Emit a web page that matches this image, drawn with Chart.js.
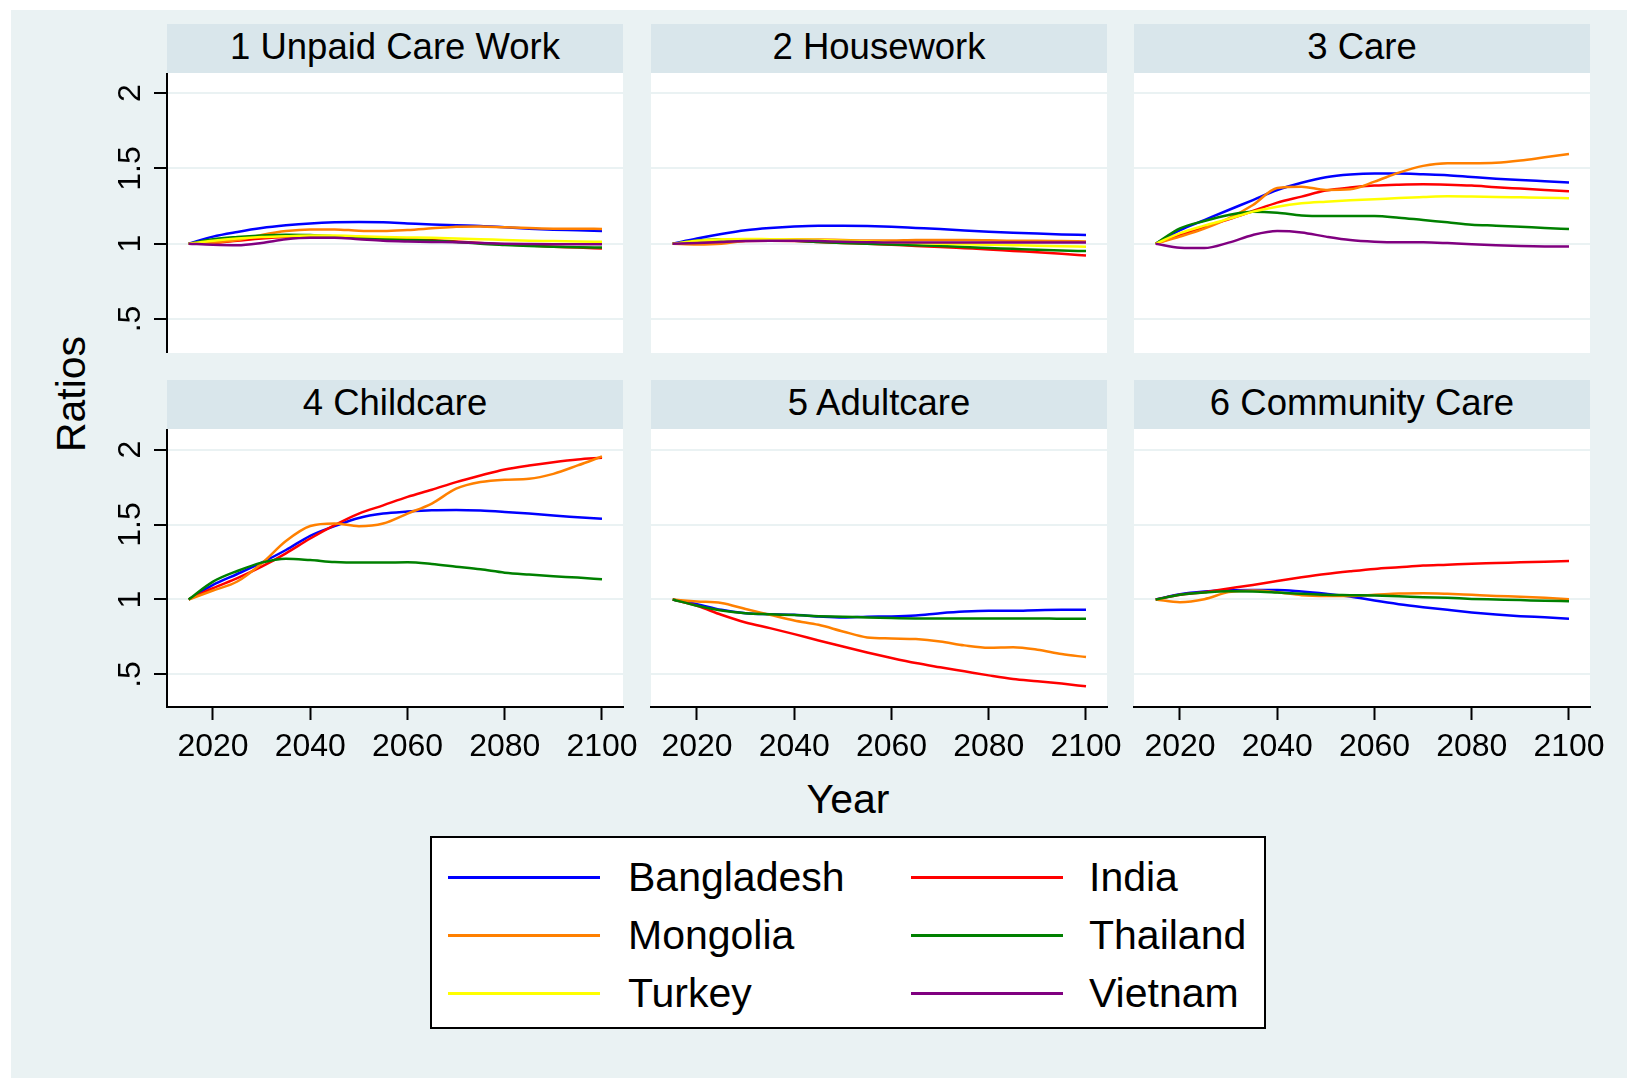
<!DOCTYPE html>
<html>
<head>
<meta charset="utf-8">
<title>Ratios by type of care, 2015-2100</title>
<script src="https://cdn.jsdelivr.net/npm/chart.js@4.4.1/dist/chart.umd.min.js"></script>
<style>
  html, body { margin: 0; padding: 0; background: #fff; width: 1627px; height: 1078px; overflow: hidden;
    font-family: 'Liberation Sans', Arial, sans-serif; }
  #frame { position: absolute; left: 11px; top: 10px; width: 1616px; height: 1068px; background: rgb(234,242,243); }
  .strip { position: absolute; height: 49px; line-height: 45px; background: rgb(217,230,235); color: #000;
    font-size: 36.5px; text-align: center; white-space: nowrap; }
  canvas.panel { position: absolute; }
  #ytitle { position: absolute; left: 71px; top: 394px; font-size: 41px; color: #000; white-space: nowrap;
    transform: translate(-50%, -50%) rotate(-90deg); }
  #xtitle { position: absolute; left: 848px; top: 799px; font-size: 41px; color: #000; white-space: nowrap;
    transform: translate(-50%, -50%); }
  #legend { position: absolute; left: 430px; top: 836px; width: 832px; height: 189px; background: #fff;
    border: 2px solid #000; }
  .key { position: absolute; height: 3px; width: 152px; }
  .keytext { position: absolute; font-size: 41px; color: #000; white-space: nowrap; transform: translateY(-50%); }
</style>
</head>
<body>
<div id="frame"></div>
<div id="ytitle">Ratios</div>
<div id="xtitle">Year</div>
<div id="legend"></div>

<script>
// ---- data -------------------------------------------------------------
const years = [2015, 2020, 2025, 2030, 2035, 2040, 2045, 2050, 2055, 2060,
               2065, 2070, 2075, 2080, 2085, 2090, 2095, 2100];
const countries = ['Bangladesh', 'India', 'Mongolia', 'Thailand', 'Turkey', 'Vietnam'];
const countryColors = ['#0000ff', '#ff0000', '#ff8000', '#008000', '#ffff00', '#800080'];
const panelTitles = ['1 Unpaid Care Work', '2 Housework', '3 Care', '4 Childcare', '5 Adultcare', '6 Community Care'];
const xTickValues = [2020, 2040, 2060, 2080, 2100];
const yTickValues = [0.5, 1, 1.5, 2];
const yTickLabels = ['.5', '1', '1.5', '2'];

// 1 Unpaid Care Work
const unpaidBangladesh = [1.0, 1.047, 1.078, 1.104, 1.122, 1.135, 1.142, 1.144, 1.142, 1.135, 1.128, 1.122, 1.118, 1.109, 1.1, 1.093, 1.089, 1.084];
const unpaidIndia      = [1.0, 1.005, 1.02, 1.035, 1.045, 1.048, 1.045, 1.042, 1.035, 1.03, 1.025, 1.015, 1.005, 0.995, 0.988, 0.98, 0.975, 0.968];
const unpaidMongolia   = [1.0, 1.007, 1.024, 1.058, 1.084, 1.095, 1.095, 1.086, 1.084, 1.091, 1.102, 1.113, 1.115, 1.109, 1.104, 1.1, 1.1, 1.098];
const unpaidThailand   = [1.0, 1.03, 1.045, 1.055, 1.06, 1.058, 1.05, 1.04, 1.033, 1.025, 1.02, 1.012, 1.0, 0.992, 0.985, 0.98, 0.977, 0.975];
const unpaidTurkey     = [1.0, 1.02, 1.035, 1.045, 1.05, 1.055, 1.055, 1.05, 1.045, 1.042, 1.04, 1.035, 1.03, 1.025, 1.02, 1.018, 1.015, 1.013];
const unpaidVietnam    = [1.0, 0.993, 0.99, 1.005, 1.03, 1.04, 1.04, 1.03, 1.02, 1.015, 1.012, 1.01, 1.005, 1.0, 0.998, 0.997, 0.997, 0.997];

// 2 Housework
const houseBangladesh = [1.0, 1.035, 1.065, 1.09, 1.105, 1.115, 1.12, 1.12, 1.118, 1.113, 1.105, 1.097, 1.088, 1.08, 1.073, 1.067, 1.062, 1.058];
const houseIndia      = [1.0, 1.005, 1.012, 1.018, 1.02, 1.018, 1.012, 1.005, 1.0, 0.993, 0.985, 0.978, 0.97, 0.962, 0.952, 0.943, 0.933, 0.922];
const houseMongolia   = [1.0, 0.995, 1.0, 1.02, 1.025, 1.03, 1.028, 1.025, 1.022, 1.022, 1.025, 1.025, 1.025, 1.023, 1.02, 1.02, 1.018, 1.015];
const houseThailand   = [1.0, 1.02, 1.03, 1.03, 1.025, 1.02, 1.012, 1.005, 1.0, 0.995, 0.99, 0.985, 0.978, 0.972, 0.966, 0.96, 0.955, 0.951];
const houseTurkey     = [1.0, 1.02, 1.03, 1.032, 1.03, 1.028, 1.025, 1.02, 1.015, 1.01, 1.005, 1.0, 0.997, 0.993, 0.99, 0.987, 0.983, 0.98];
const houseVietnam    = [1.0, 1.005, 1.012, 1.018, 1.02, 1.02, 1.018, 1.013, 1.01, 1.008, 1.008, 1.008, 1.008, 1.008, 1.008, 1.008, 1.008, 1.008];

// 3 Care
const careBangladesh = [1.0, 1.09, 1.157, 1.224, 1.29, 1.357, 1.405, 1.441, 1.459, 1.466, 1.466, 1.461, 1.455, 1.443, 1.432, 1.424, 1.415, 1.406];
const careIndia      = [1.0, 1.058, 1.113, 1.162, 1.217, 1.273, 1.313, 1.353, 1.373, 1.386, 1.392, 1.395, 1.392, 1.386, 1.375, 1.366, 1.357, 1.348];
const careMongolia   = [1.0, 1.047, 1.10, 1.168, 1.257, 1.37, 1.379, 1.357, 1.361, 1.412, 1.472, 1.517, 1.534, 1.534, 1.537, 1.552, 1.574, 1.596];
const careThailand   = [1.0, 1.102, 1.151, 1.191, 1.213, 1.206, 1.188, 1.184, 1.184, 1.184, 1.173, 1.157, 1.142, 1.126, 1.12, 1.113, 1.104, 1.098];
const careTurkey     = [1.0, 1.07, 1.12, 1.165, 1.213, 1.246, 1.268, 1.279, 1.288, 1.295, 1.304, 1.31, 1.315, 1.313, 1.31, 1.308, 1.306, 1.302];
const careVietnam    = [1.0, 0.973, 0.971, 1.007, 1.058, 1.084, 1.075, 1.047, 1.024, 1.013, 1.009, 1.009, 1.004, 0.996, 0.989, 0.984, 0.982, 0.982];

// 4 Childcare
const childBangladesh = [1.0, 1.097, 1.17, 1.246, 1.33, 1.425, 1.489, 1.544, 1.573, 1.586, 1.595, 1.597, 1.593, 1.584, 1.573, 1.56, 1.549, 1.538];
const childIndia      = [1.0, 1.075, 1.142, 1.219, 1.308, 1.407, 1.496, 1.573, 1.628, 1.684, 1.732, 1.783, 1.827, 1.867, 1.894, 1.916, 1.934, 1.945];
const childMongolia   = [1.0, 1.06, 1.12, 1.24, 1.39, 1.49, 1.507, 1.489, 1.507, 1.573, 1.64, 1.739, 1.783, 1.799, 1.805, 1.838, 1.894, 1.954];
const childThailand   = [1.0, 1.119, 1.19, 1.246, 1.272, 1.263, 1.25, 1.246, 1.246, 1.248, 1.237, 1.219, 1.201, 1.179, 1.166, 1.155, 1.146, 1.135];

// 5 Adultcare
const adultBangladesh = [1.0, 0.969, 0.931, 0.909, 0.902, 0.898, 0.887, 0.88, 0.885, 0.887, 0.894, 0.909, 0.92, 0.925, 0.925, 0.929, 0.931, 0.931];
const adultIndia      = [1.0, 0.958, 0.898, 0.847, 0.809, 0.769, 0.727, 0.687, 0.647, 0.61, 0.576, 0.548, 0.521, 0.494, 0.47, 0.455, 0.439, 0.421];
const adultMongolia   = [1.0, 0.987, 0.976, 0.936, 0.898, 0.86, 0.831, 0.787, 0.747, 0.74, 0.736, 0.72, 0.694, 0.678, 0.681, 0.665, 0.636, 0.616];
const adultThailand   = [1.0, 0.958, 0.927, 0.909, 0.902, 0.896, 0.889, 0.885, 0.88, 0.876, 0.874, 0.874, 0.874, 0.874, 0.874, 0.874, 0.871, 0.871];

// 6 Community Care
const communityBangladesh = [1.0, 1.035, 1.053, 1.062, 1.064, 1.064, 1.053, 1.038, 1.02, 0.993, 0.969, 0.949, 0.931, 0.914, 0.9, 0.889, 0.881, 0.872];
const communityIndia      = [1.0, 1.031, 1.049, 1.073, 1.097, 1.124, 1.148, 1.17, 1.188, 1.204, 1.215, 1.226, 1.232, 1.239, 1.243, 1.248, 1.252, 1.257];
const communityMongolia   = [1.0, 0.982, 1.002, 1.049, 1.06, 1.049, 1.029, 1.024, 1.024, 1.031, 1.04, 1.042, 1.038, 1.031, 1.024, 1.018, 1.011, 1.002];
const communityThailand   = [1.0, 1.031, 1.046, 1.055, 1.053, 1.046, 1.038, 1.031, 1.029, 1.027, 1.022, 1.015, 1.011, 1.004, 1.0, 0.996, 0.991, 0.989];

// series per panel, in country order (null = not shown in that panel)
const panelSeries = [
  [unpaidBangladesh, unpaidIndia, unpaidMongolia, unpaidThailand, unpaidTurkey, unpaidVietnam],
  [houseBangladesh, houseIndia, houseMongolia, houseThailand, houseTurkey, houseVietnam],
  [careBangladesh, careIndia, careMongolia, careThailand, careTurkey, careVietnam],
  [childBangladesh, childIndia, childMongolia, childThailand, null, null],
  [adultBangladesh, adultIndia, adultMongolia, adultThailand, null, null],
  [communityBangladesh, communityIndia, communityMongolia, communityThailand, null, null]
];

// ---- layout -----------------------------------------------------------
const FONT = "'Liberation Sans', Arial, sans-serif";
const gridColor = 'rgb(234,242,243)';
const colLeft = [167, 651, 1134];
const plotW = 456;
const rowTop = [73, 429];
const plotH = [280, 278];
const stripH = 49;
const xRange = [2010.54, 2104.32];
const yRange = [[0.274, 2.134], [0.283, 2.137]];
const xAxisH = 62;

// white plot region behind the lines
const plotFill = {
  id: 'plotFill',
  beforeDraw(chart) {
    const a = chart.chartArea, ctx = chart.ctx;
    ctx.save();
    ctx.fillStyle = '#fff';
    ctx.fillRect(a.left, a.top, a.right - a.left, a.bottom - a.top);
    ctx.restore();
  }
};

// vertical y tick labels, placed with the y scale
const yLabels = {
  id: 'yLabels',
  afterDraw(chart, args, opts) {
    if (!opts.show) return;
    const s = chart.scales.y, ctx = chart.ctx;
    ctx.save();
    ctx.fillStyle = '#000';
    ctx.font = '32px ' + FONT;
    ctx.textAlign = 'center';
    ctx.textBaseline = 'alphabetic';
    yTickValues.forEach((v, i) => {
      const y = s.getPixelForValue(v);
      ctx.save();
      ctx.translate(opts.baselineX, y);
      ctx.rotate(-Math.PI / 2);
      ctx.fillText(yTickLabels[i], 0, 0);
      ctx.restore();
    });
    ctx.restore();
  }
};

function makePanel(idx) {
  const col = idx % 3, row = Math.floor(idx / 3);
  const first = col === 0, bottom = row === 1;
  const padL = first ? 0 : 40, padR = 40;
  const axisW = first ? colLeft[0] : 0;
  const axisH = bottom ? xAxisH : 0;
  const left = colLeft[col] - axisW - padL;
  const width = padL + axisW + plotW + padR;
  const height = plotH[row] + axisH;

  const strip = document.createElement('div');
  strip.className = 'strip';
  strip.style.left = colLeft[col] + 'px';
  strip.style.top = (rowTop[row] - stripH) + 'px';
  strip.style.width = plotW + 'px';
  strip.textContent = panelTitles[idx];
  document.body.appendChild(strip);

  const cv = document.createElement('canvas');
  cv.className = 'panel';
  cv.width = width; cv.height = height;
  cv.style.left = left + 'px';
  cv.style.top = rowTop[row] + 'px';
  cv.style.width = width + 'px';
  cv.style.height = height + 'px';
  document.body.appendChild(cv);

  const datasets = [];
  panelSeries[idx].forEach((vals, c) => {
    if (!vals) return;
    datasets.push({
      label: countries[c],
      data: years.map((yr, i) => ({ x: yr, y: vals[i] })),
      borderColor: countryColors[c],
      borderWidth: 2.5,
      pointRadius: 0,
      fill: false,
      cubicInterpolationMode: 'monotone',
      order: countries.length - c
    });
  });

  new Chart(cv, {
    type: 'line',
    data: { datasets },
    plugins: [plotFill, yLabels],
    options: {
      responsive: false,
      animation: false,
      devicePixelRatio: 1,
      layout: { padding: { left: padL, right: padR, top: 0, bottom: 0 } },
      plugins: {
        legend: { display: false },
        tooltip: { enabled: false },
        yLabels: { show: first, baselineX: 139.5 - left }
      },
      scales: {
        x: {
          type: 'linear',
          display: bottom,
          min: xRange[0], max: xRange[1],
          afterBuildTicks: s => { s.ticks = xTickValues.map(v => ({ value: v })); },
          afterFit: s => { s.height = axisH; s.paddingLeft = 0; s.paddingRight = 0; },
          ticks: { callback: v => String(v), font: { family: FONT, size: 32 }, color: '#000',
                   padding: 8, maxRotation: 0, minRotation: 0, autoSkip: false },
          grid: { drawOnChartArea: false, drawTicks: true, tickLength: 13, tickColor: '#000', tickWidth: 2 },
          border: { display: true, color: '#000', width: 2 }
        },
        y: {
          type: 'linear',
          min: yRange[row][0], max: yRange[row][1],
          afterBuildTicks: s => { s.ticks = yTickValues.map(v => ({ value: v })); },
          afterFit: s => { s.width = axisW; s.paddingTop = 0; s.paddingBottom = 0; },
          ticks: { display: false },
          grid: { color: gridColor, lineWidth: 2, drawTicks: first, tickLength: 13, tickColor: '#000', tickWidth: 2 },
          border: { display: first, color: '#000', width: 2 }
        }
      }
    }
  });
}

for (let i = 0; i < 6; i++) makePanel(i);

// legend: two columns, filled row by row
const legend = document.getElementById('legend');
const legendRowsY = [39, 97, 155];        // centre of each row inside the box
const legendKeyX = [16, 479];
const legendTextX = [196, 657];
countries.forEach((name, c) => {
  const r = Math.floor(c / 2), k = c % 2;
  const key = document.createElement('div');
  key.className = 'key';
  key.style.left = legendKeyX[k] + 'px';
  key.style.top = (legendRowsY[r] - 1.5) + 'px';
  key.style.background = countryColors[c];
  legend.appendChild(key);
  const t = document.createElement('div');
  t.className = 'keytext';
  t.style.left = legendTextX[k] + 'px';
  t.style.top = legendRowsY[r] + 'px';
  t.textContent = name;
  legend.appendChild(t);
});
</script>
</body>
</html>
